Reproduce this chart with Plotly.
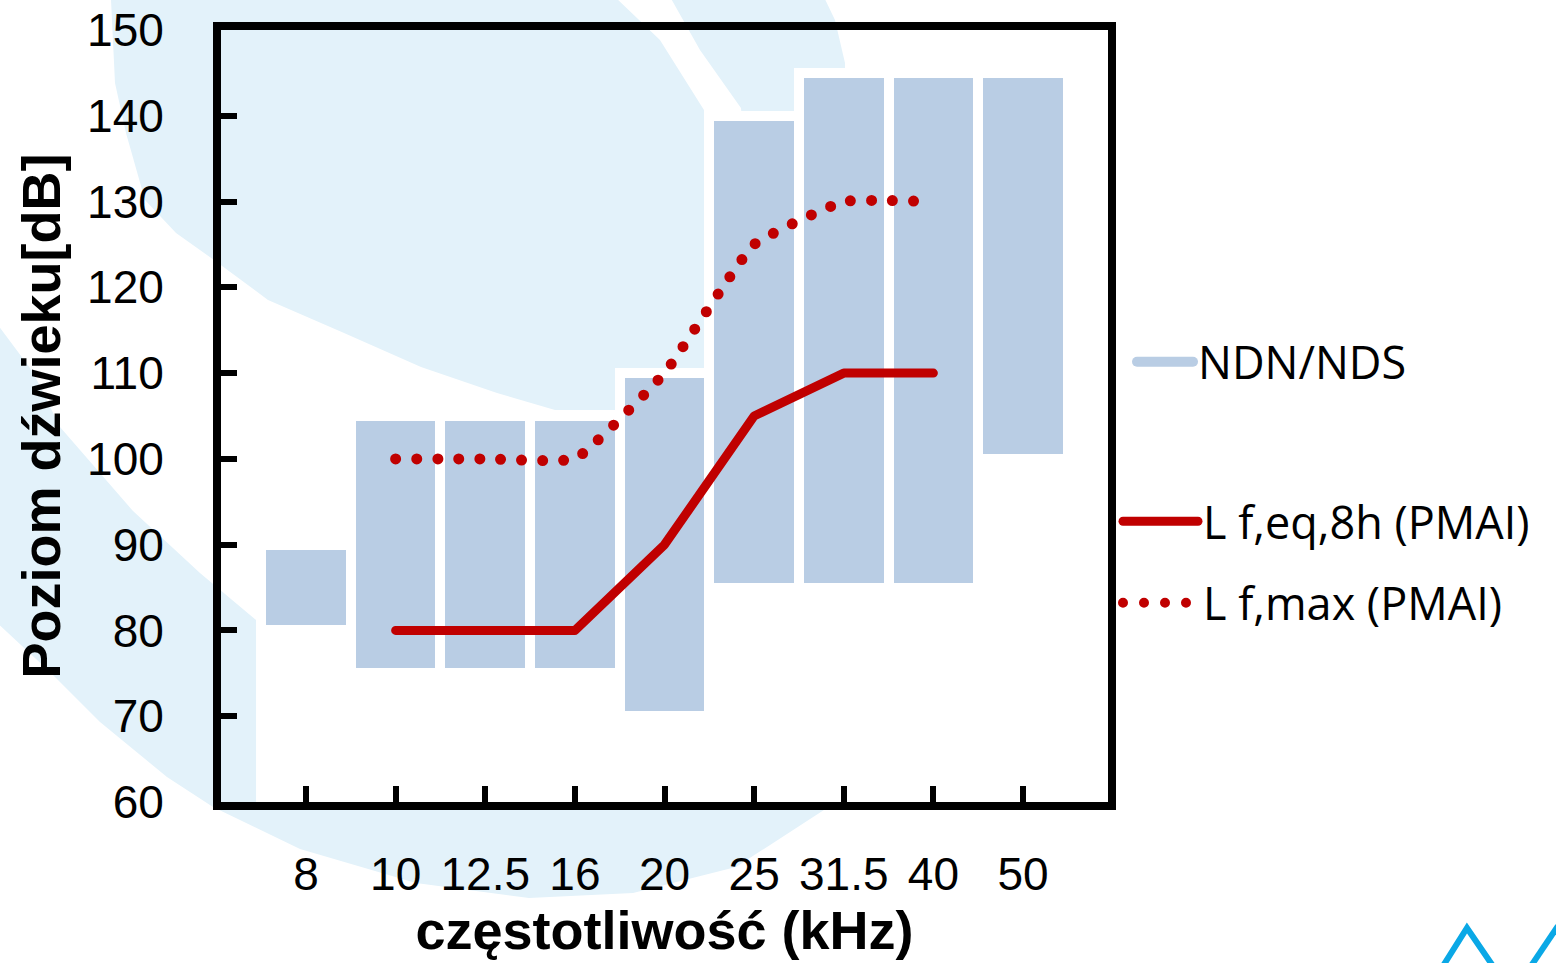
import plotly.graph_objects as go

# ---------------- data ----------------
categories = ["8", "10", "12.5", "16", "20", "25", "31.5", "40", "50"]
ndn_low = [80, 75, 75, 75, 70, 85, 85, 85, 100]
ndn_high = [90, 105, 105, 105, 110, 140, 145, 145, 145]

line_cats = ["10", "12.5", "16", "20", "25", "31.5", "40"]
l_eq_8h = [80, 80, 80, 90, 105, 110, 110]
l_max = [100, 100, 100, 110, 125, 130, 130]

y_ticks = [60, 70, 80, 90, 100, 110, 120, 130, 140, 150]

# ---------------- styling ----------------
BAR_BLUE = "#B9CDE4"
RED = "#C00000"
BG_BLUE = "#E3F2FA"
W, H = 1556, 963
# plot domain in pixels (axis lines are drawn just outside it)
DL, DR, DT, DB = 221, 1108, 30, 802


def px(x, y):
    return (x - DL) / (DR - DL), (DB - y) / (DB - DT)


def path_from(points, close=True):
    pts = [px(x, y) for x, y in points]
    s = "M %.4f,%.4f " % pts[0]
    s += " ".join("L %.4f,%.4f" % p for p in pts[1:])
    return s + (" Z" if close else "")


blob_a = [(111, -5), (111, 0), (115, 83), (126, 133), (145, 200), (176, 233), (214, 260),
          (268, 300), (344, 333), (421, 367), (497, 393), (555, 410), (704, 410),
          (704, 110), (660, 40), (613, -5)]
blob_b = [(669, -5), (700, 50), (741, 108), (760, 300), (845, 300), (845, 63), (835, 20), (823, -5)]
ring_c = [(-5, 321), (33, 372), (60, 427), (133, 511), (200, 573), (256, 620), (500, 700),
          (860, 700), (860, 780), (827, 808), (736, 867), (633, 893), (529, 898), (416, 883),
          (300, 849), (213, 807), (167, 777), (100, 722), (50, 672), (-5, 621)]
white_rect = [(256, 410), (1108, 410), (1108, 803), (256, 803)]

shapes = []
for poly in (blob_a, blob_b, ring_c):
    shapes.append(dict(type="path", xref="paper", yref="paper", path=path_from(poly),
                       fillcolor=BG_BLUE, line=dict(width=0), layer="below"))
shapes.append(dict(type="path", xref="paper", yref="paper", path=path_from(white_rect),
                   fillcolor="white", line=dict(width=0), layer="below"))
# logo chevrons bottom-right
for seg in ([(1443, 966), (1467, 928), (1493, 966)], [(1531, 966), (1558, 926)]):
    shapes.append(dict(type="path", xref="paper", yref="paper", path=path_from(seg, close=False),
                       line=dict(color="#0AA8E6", width=6), layer="above"))

fig = go.Figure()

fig.add_trace(go.Bar(
    x=categories,
    y=[h - l for h, l in zip(ndn_high, ndn_low)],
    base=ndn_low,
    width=1.0,
    marker=dict(color=BAR_BLUE, line=dict(color="white", width=10)),
    showlegend=False,
    name="NDN/NDS",
))
# legend-only entry for the bars (wide swatch)
fig.add_trace(go.Scatter(
    x=[None], y=[None], mode="lines", name="NDN/NDS",
    line=dict(color=BAR_BLUE, width=20), legend="legend",
))
fig.add_trace(go.Scatter(
    x=line_cats, y=l_eq_8h, mode="lines", name="L f,eq,8h (PMAI)",
    line=dict(color=RED, width=9), legend="legend2", legendgroup="g1",
))
fig.add_trace(go.Scatter(
    x=line_cats, y=l_max, mode="lines", name="L f,max (PMAI)",
    line=dict(color=RED, width=11, dash="0px,21px", shape="spline", smoothing=0.35),
    legend="legend2", legendgroup="g2",
))

tick_font = dict(family="Liberation Sans, Arial, sans-serif", size=46, color="black")
title_font = dict(family="Liberation Sans, Arial, sans-serif", size=54, color="black")
leg_font = dict(family="Open Sans, sans-serif", size=45, color="black")

x_px_per = (1023 - 306) / 8.0

fig.update_layout(
    width=W, height=H,
    margin=dict(l=DL, r=W - DR, t=DT, b=H - DB, pad=0),
    paper_bgcolor="white",
    plot_bgcolor="rgba(0,0,0,0)",
    shapes=shapes,
    barmode="overlay",
    bargap=0,
    xaxis=dict(
        type="category", automargin=False,
        categoryorder="array", categoryarray=categories,
        range=[(DL - 306) / x_px_per, (DR - 306) / x_px_per],
        showline=True, linecolor="black", linewidth=8, mirror=True,
        ticks="inside", ticklen=16, tickwidth=6, tickcolor="black",
        showgrid=False, zeroline=False,
        tickfont=tick_font,
        ticklabelstandoff=25,
        title=dict(text="<b>częstotliwość (kHz)</b>", font=title_font, standoff=14),
    ),
    yaxis=dict(
        range=[60, 150], automargin=False,
        tickmode="array", tickvals=y_ticks,
        showline=True, linecolor="black", linewidth=8, mirror=True,
        ticks="inside", ticklen=16, tickwidth=6, tickcolor="black",
        showgrid=False, zeroline=False,
        tickfont=tick_font,
        ticklabelstandoff=40,
        title=dict(text="<b>Poziom dźwieku[dB]</b>", font=title_font, standoff=12),
    ),
    legend=dict(
        x=(1132 - DL) / (DR - DL), y=(DB - 362) / (DB - DT),
        xanchor="left", yanchor="middle",
        font=leg_font, itemwidth=56, bgcolor="rgba(0,0,0,0)",
    ),
    legend2=dict(
        x=(1118 - DL) / (DR - DL), y=(DB - 562) / (DB - DT),
        xanchor="left", yanchor="middle",
        font=leg_font, itemwidth=75, bgcolor="rgba(0,0,0,0)",
        tracegroupgap=20,
    ),
)

post = """
(function(){
  var gd = document.getElementById('{plot_id}');
  function fix(){
    document.querySelectorAll('path.js-line').forEach(function(p){
      p.style.strokeLinecap = 'round';
      p.style.strokeLinejoin = 'round';
    });
  }
  fix();
  if (gd && gd.on) { gd.on('plotly_afterplot', fix); }
})();
"""

fig.write_html("out.html", post_script=post)
